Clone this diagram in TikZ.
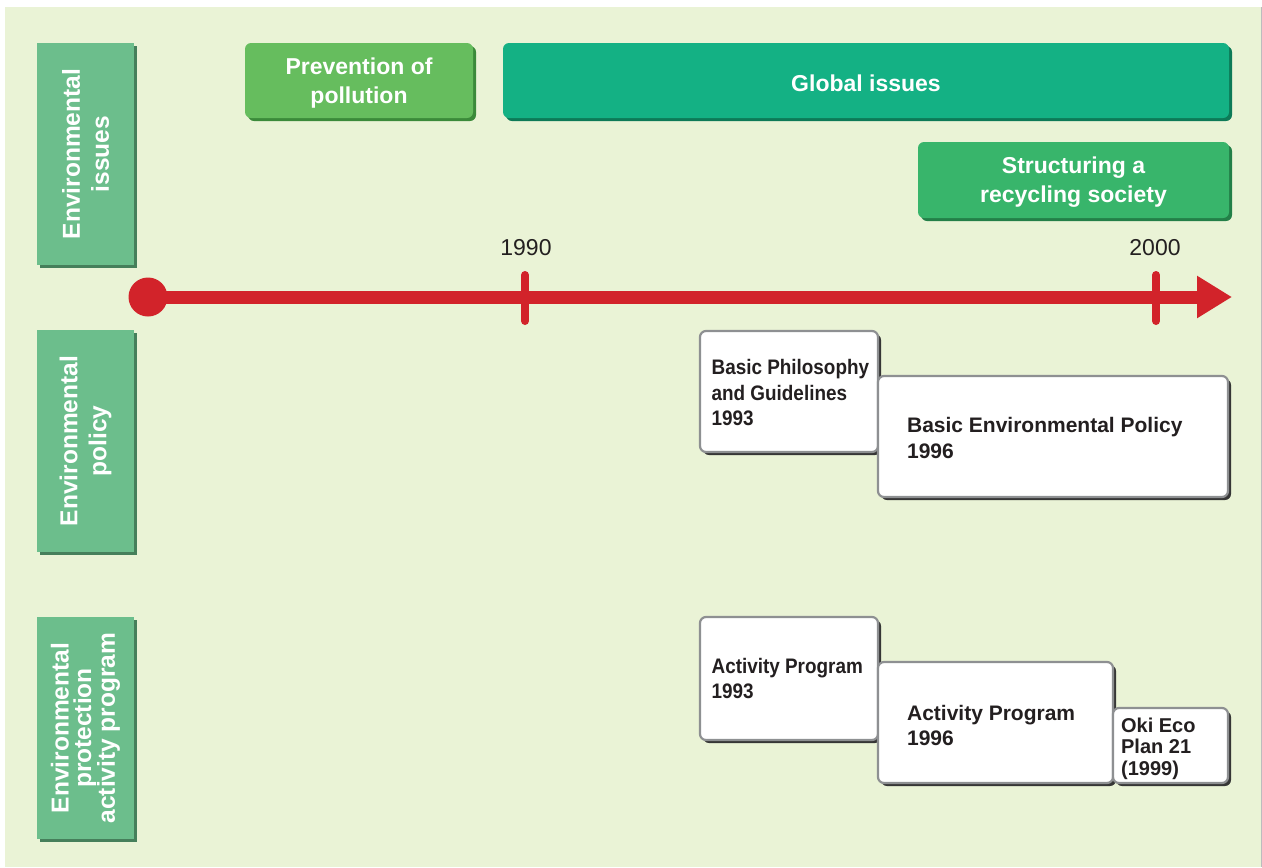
\documentclass[tikz,border=0pt]{standalone}
\usepackage{fontspec}
\setmainfont{Liberation Sans}
\newfontfamily\narrowsans[FakeStretch=0.9]{Liberation Sans}
\usetikzlibrary{shadows,arrows.meta}
\definecolor{paper}{HTML}{EAF3D6}
\definecolor{lblgreen}{HTML}{6CBE8C}
\definecolor{lblshadow}{HTML}{467F5B}
\definecolor{prevgreen}{HTML}{66BD5E}
\definecolor{prevshadow}{HTML}{3B8A3A}
\definecolor{globgreen}{HTML}{14B184}
\definecolor{globshadow}{HTML}{0D7A57}
\definecolor{recygreen}{HTML}{38B56B}
\definecolor{recyshadow}{HTML}{237F48}
\definecolor{tlred}{HTML}{D2232A}
\definecolor{boxedge}{HTML}{8E9092}
\definecolor{boxshadow}{HTML}{363636}
\definecolor{inktext}{HTML}{231F20}
\begin{document}
\begin{tikzpicture}[x=1pt,y=-1pt,line join=round,
  rowlabel/.style={rectangle,fill=lblgreen,minimum width=97pt,minimum height=222pt,inner sep=0pt,
    drop shadow={shadow xshift=3pt,shadow yshift=-3pt,fill=lblshadow,opacity=1}},
  rowtext/.style={rotate=90,align=center,inner sep=0pt,text=white,font=\bfseries\fontsize{24.5}{29}\selectfont},
  topbox/.style={rectangle,rounded corners=6pt,inner sep=0pt,minimum height=75pt},
  toptext/.style={align=center,inner sep=0pt,text=white,font=\bfseries\fontsize{23}{29}\selectfont},
  stagebox/.style={rectangle,rounded corners=6pt,fill=white,draw=boxedge,line width=2.2pt,inner sep=0pt,
    drop shadow={shadow xshift=3pt,shadow yshift=-3pt,fill=boxshadow,opacity=1}},
  stagetext/.style={anchor=west,align=left,inner sep=0pt,text=inktext,font=\bfseries\fontsize{21}{25.5}\selectfont},
  narrowtext/.style={stagetext,font=\narrowsans\bfseries\fontsize{21}{25.5}\selectfont},
  yearlbl/.style={inner sep=0pt,text=inktext,font=\fontsize{23}{27}\selectfont},
  tick/.style={tlred,line width=8pt,line cap=round},
]
\useasboundingbox (0,0) rectangle (1262,868);
\fill[paper] (5,7) rectangle (1261,867);
\draw[boxedge!60,line width=1pt] (1261,7) -- (1261,867);
%% row labels
\node[rowlabel] (lbl_issues) at (85.5,154) {};
\node[rowtext] (lbl_issues_t) at (lbl_issues.center) {Environmental\\issues};
\node[rowlabel] (lbl_policy) at (85.5,441) {};
\node[rowtext] (lbl_policy_t) at (lbl_policy.center) {Environmental\\policy};
\node[rowlabel] (lbl_program) at (85.5,728) {};
\node[rowtext,font=\bfseries\fontsize{24.5}{22.5}\selectfont] (lbl_program_t) at (lbl_program.center) {Environmental\\protection\\activity program};
%% issues
\node[topbox,minimum width=228pt,fill=prevgreen,
  drop shadow={shadow xshift=3pt,shadow yshift=-3pt,fill=prevshadow,opacity=1}] (prevention) at (359,80.5) {};
\node[toptext] (prevention_t) at ([yshift=-3pt]prevention.center) {Prevention of\\pollution};
\node[topbox,minimum width=726pt,fill=globgreen,
  drop shadow={shadow xshift=3pt,shadow yshift=-3pt,fill=globshadow,opacity=1}] (global) at (866,80.5) {};
\node[toptext] (global_t) at ([yshift=-2.5pt]global.center) {Global issues};
\node[topbox,minimum width=311pt,minimum height=76pt,fill=recygreen,
  drop shadow={shadow xshift=3pt,shadow yshift=-3pt,fill=recyshadow,opacity=1}] (recycling) at (1073.5,180) {};
\node[toptext] (recycling_t) at ([yshift=-2.5pt]recycling.center) {Structuring a\\recycling society};
%% time line
\node[circle,fill=tlred,minimum size=39pt,inner sep=0pt] (tl_start) at (148,297) {};
\coordinate (tl_end) at (1232,297);
\draw[tlred,line width=13pt,-{Triangle[length=35pt,width=40pt]}] (tl_start.center) -- (tl_end);
\node[yearlbl] (y1990) at (526,248) {1990};
\node[yearlbl] (y2000) at (1155,248) {2000};
\coordinate (tick1990_a) at (525,275);
\coordinate (tick1990_b) at (525,321);
\coordinate (tick2000_a) at (1156,275);
\coordinate (tick2000_b) at (1156,321);
\draw[tick] (tick1990_a) -- (tick1990_b);
\draw[tick] (tick2000_a) -- (tick2000_b);
%% policy
\node[stagebox,minimum width=178pt,minimum height=121pt] (philosophy) at (789,391.5) {};
\node[narrowtext] (philosophy_t) at ([xshift=12.5pt,yshift=-1.5pt]philosophy.west) {Basic Philosophy\\and Guidelines\\1993};
\node[stagebox,minimum width=350pt,minimum height=121pt] (basicpolicy) at (1053,436.5) {};
\node[stagetext] (basicpolicy_t) at ([xshift=30pt,yshift=-1.5pt]basicpolicy.west) {Basic Environmental Policy\\1996};
%% activity program
\node[stagebox,minimum width=178pt,minimum height=123pt] (program93) at (789,678.5) {};
\node[narrowtext] (program93_t) at ([xshift=12.5pt]program93.west) {Activity Program\\1993};
\node[stagebox,minimum width=235pt,minimum height=121pt] (program96) at (995.5,722.5) {};
\node[stagetext] (program96_t) at ([xshift=30pt,yshift=-3pt]program96.west) {Activity Program\\1996};
\node[stagebox,minimum width=115pt,minimum height=75pt] (ecoplan) at (1170.5,745.5) {};
\node[stagetext,font=\bfseries\fontsize{20}{21.5}\selectfont] (ecoplan_t) at ([xshift=9pt,yshift=-3pt]ecoplan.west) {Oki Eco\\Plan 21\\(1999)};
%
\end{tikzpicture}
\end{document}
